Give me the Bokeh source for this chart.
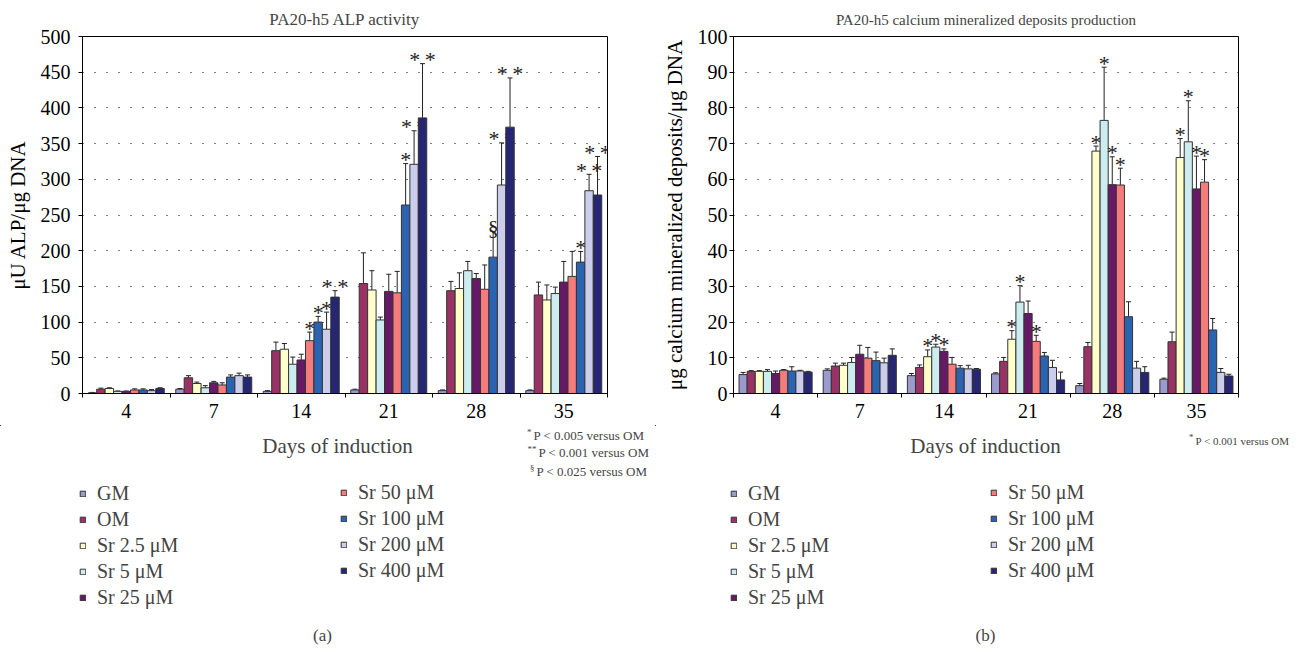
import numpy as np
from bokeh.plotting import figure
from bokeh.models import (ColumnDataSource, FixedTicker, Range1d, Legend, LegendItem,
                          Label, Whisker, TeeHead, CustomJSTickFormatter)
from bokeh.layouts import row, column
from bokeh.embed import file_html
from bokeh.resources import INLINE
from bokeh.core.properties import value

# ---------------- data ----------------
days = ["4", "7", "14", "21", "28", "35"]
series = ["GM", "OM", "Sr 2.5 μM", "Sr 5 μM", "Sr 25 μM", "Sr 50 μM",
          "Sr 100 μM", "Sr 200 μM", "Sr 400 μM"]
colors = ["#9a9acc", "#993366", "#ffffcc", "#ccecf0", "#661a66", "#f47c7c",
          "#2a64b0", "#cccceb", "#262672"]

# (a) ALP activity, muU ALP / ug DNA  (mean per day, one list per series)
alp_mean = [
    [1, 6, 3, 5, 4, 4],
    [6, 22, 60, 154, 144, 138],
    [7, 14, 62, 145, 147, 131],
    [3, 8, 41, 103, 172, 140],
    [3, 15, 47, 143, 161, 156],
    [5, 12, 74, 141, 146, 164],
    [5, 23, 100, 264, 191, 184],
    [4, 25, 90, 321, 292, 284],
    [7, 23, 135, 386, 373, 278],
]
alp_sd = [
    [0.5, 1, 1, 1, 1, 1],
    [1.5, 3, 12, 43, 13, 18],
    [1, 2, 8, 27, 22, 21],
    [0.5, 3, 10, 4, 13, 9],
    [0.5, 2, 8, 24, 7, 29],
    [1.5, 3, 12, 30, 34, 35],
    [1.5, 3, 8, 58, 36, 15],
    [1.5, 3.5, 24, 47, 59, 23],
    [1, 3, 9, 76, 69, 54],
]
S2 = "*\u2009*"
alp_sig = [
    ["", "", "", "", "", ""],
    ["", "", "", "", "", ""],
    ["", "", "", "", "", ""],
    ["", "", "", "", "", ""],
    ["", "", "", "", "", ""],
    ["", "", "*", "", "", ""],
    ["", "", "*", "*", "§", "*"],
    ["", "", "*", S2, S2, S2],
    ["", "", S2, S2, S2, S2],
]

# (b) calcium mineralized deposits, ug / ug DNA
ca_mean = [
    [5.3, 6.5, 5.0, 5.5, 2.2, 4.0],
    [6.2, 7.7, 7.3, 9.0, 13.1, 14.5],
    [6.2, 7.9, 10.3, 15.2, 67.9, 66.1],
    [6.2, 8.7, 13.0, 25.6, 76.5, 70.5],
    [5.6, 11.0, 11.8, 22.4, 58.5, 57.3],
    [6.5, 9.9, 8.2, 14.6, 58.4, 59.2],
    [6.3, 9.2, 7.1, 10.5, 21.5, 17.8],
    [6.3, 8.6, 6.9, 7.3, 7.1, 5.9],
    [6.0, 10.7, 6.8, 3.8, 5.9, 4.9],
]
ca_sd = [
    [0.6, 0.4, 0.6, 0.3, 0.6, 0.3],
    [0.2, 0.8, 0.7, 1.1, 1.2, 2.7],
    [0.2, 0.6, 1.9, 2.4, 1.4, 5.3],
    [0.5, 1.4, 0.8, 4.6, 14.9, 11.5],
    [0.7, 2.5, 0.7, 3.5, 7.8, 9.2],
    [0.2, 3.0, 1.9, 1.7, 4.7, 6.3],
    [1.2, 2.4, 0.7, 1.0, 4.2, 3.2],
    [0.2, 1.3, 1.0, 2.0, 1.9, 1.1],
    [0.2, 1.8, 0.2, 2.2, 1.6, 0.5],
]
ca_sig = [
    ["", "", "", "", "", ""],
    ["", "", "", "", "", ""],
    ["", "", "*", "*", "*", "*"],
    ["", "", "*", "*", "*", "*"],
    ["", "", "*", "", "*", "*"],
    ["", "", "", "*", "*", "*"],
    ["", "", "", "", "", ""],
    ["", "", "", "", "", ""],
    ["", "", "", "", "", ""],
]

FONT = "Liberation Serif"
FRAME_H = 357
TOP_H = 425          # height of the chart figure (frame + axes)
BOT_H = 220          # height of the legend / notes figure
BW = 0.0965


def make_chart(title, title_size, title_standoff, ylabel, ymax, ystep, means, sds, sigs,
               frame_w, bl, br, ystandoff):
    p = figure(frame_width=frame_w, frame_height=FRAME_H,
               x_range=Range1d(0, len(days)), y_range=Range1d(0, ymax),
               output_backend="svg", toolbar_location=None,
               min_border_left=bl, min_border_right=br,
               min_border_top=36, min_border_bottom=TOP_H - 36 - FRAME_H)
    p.frame_align = False
    p.title.text = title
    p.title.align = "center"
    p.title.text_font = FONT
    p.title.text_font_size = title_size
    p.title.text_font_style = "normal"
    p.title.text_line_height = 1.0
    p.title.standoff = title_standoff

    for j, name in enumerate(series):
        xs = [i + 0.5 + (j - 4) * BW for i in range(len(days))]
        tops = [m + s for m, s in zip(means[j], sds[j])]
        src = ColumnDataSource(dict(x=xs, y=means[j], top=tops, sig=sigs[j]))
        p.vbar(x="x", top="y", width=BW, source=src, fill_color=colors[j],
               line_color="#333333", line_width=1)
        p.add_layout(Whisker(base="x", lower="y", upper="top", source=src,
                             dimension="height", line_color="#222222", line_width=1,
                             upper_head=TeeHead(size=5, line_color="#222222", line_width=1),
                             lower_head=None))
        p.text(x="x", y="top", text="sig", source=src, text_font=value(FONT),
               text_font_size="22px", text_align="center", text_baseline="alphabetic",
               y_offset=-4, text_color="#222222")

    p.xaxis.ticker = FixedTicker(ticks=[i + 0.5 for i in range(len(days))],
                                 minor_ticks=list(range(len(days) + 1)))
    p.xaxis.formatter = CustomJSTickFormatter(args=dict(labels=days),
                                              code="return labels[Math.floor(tick)];")
    p.xaxis.major_tick_line_color = None
    p.xaxis.major_tick_out = 0
    p.xaxis.major_tick_in = 0
    p.xaxis.minor_tick_line_color = "black"
    p.xaxis.minor_tick_out = 4
    p.xaxis.minor_tick_in = 0
    p.xaxis.major_label_standoff = 6

    p.yaxis.ticker = FixedTicker(ticks=list(range(0, ymax + 1, ystep)))
    p.yaxis.minor_tick_line_color = None
    p.yaxis.major_tick_out = 4
    p.yaxis.major_tick_in = 0
    p.yaxis.major_label_standoff = ystandoff
    p.yaxis.axis_label = ylabel
    p.yaxis.axis_label_standoff = 8

    for ax in (p.xaxis, p.yaxis):
        ax.axis_line_color = "black"
        ax.major_label_text_font = FONT
        ax.major_label_text_font_size = "20px"
        ax.major_label_text_color = "black"
        ax.axis_label_text_font = FONT
        ax.axis_label_text_font_size = "21px"
        ax.axis_label_text_font_style = "normal"
        ax.axis_label_text_color = "black"

    p.xgrid.visible = False
    p.ygrid.grid_line_color = "black"
    p.ygrid.grid_line_dash = "1 11"
    p.ygrid.grid_line_width = 1
    p.outline_line_color = "black"
    p.outline_line_alpha = 1
    return p


def make_notes(width, xlabel_x, foot, foot_size, leg_x1, leg_x2, letter, letter_x):
    # lower strip: x-axis title, footnotes, legend and panel letter.
    # coordinates are pixel offsets from the strip's top-left corner
    q = figure(frame_width=width, frame_height=BOT_H,
               x_range=Range1d(0, width), y_range=Range1d(BOT_H, 0),
               output_backend="svg", toolbar_location=None,
               min_border=0, x_axis_location=None, y_axis_location=None)
    q.frame_align = False
    q.grid.visible = False
    q.outline_line_color = None

    q.add_layout(Label(x=xlabel_x, y=20, text="Days of induction", text_font=FONT,
                       text_font_size="21px", text_align="center",
                       text_baseline="middle"))
    for sup, txt, sx, ty in foot:
        q.add_layout(Label(x=sx, y=ty - 4, text=sup, text_font=FONT,
                           text_font_size="9px", text_align="right",
                           text_baseline="middle"))
        q.add_layout(Label(x=sx + 2, y=ty, text=txt, text_font=FONT,
                           text_font_size=foot_size, text_align="left",
                           text_baseline="middle"))

    # legend-only renderers (one point far outside the visible range)
    dummy = ColumnDataSource(dict(x=[-1000], top=[0]))
    items = []
    for j, name in enumerate(series):
        r = q.vbar(x="x", top="top", width=1, source=dummy, fill_color=colors[j],
                   line_color="#333333", line_width=1)
        items.append(LegendItem(label=name, renderers=[r]))
    for its, lx, ly in ((items[:5], leg_x1, 36), (items[5:], leg_x2, 63)):
        leg = Legend(items=its, location=(lx, ly), orientation="vertical",
                     label_text_font=FONT, label_text_font_size="20px",
                     glyph_width=7, glyph_height=7, label_standoff=11,
                     spacing=3, padding=0, margin=0, border_line_color=None,
                     background_fill_alpha=0, label_height=20)
        q.add_layout(leg, "center")

    q.add_layout(Label(x=letter_x, y=210, text=letter, text_font=FONT,
                       text_font_size="17px", text_align="center",
                       text_baseline="middle"))
    return q


pa = make_chart("PA20-h5 ALP activity", "17px", 15, "μU ALP/μg DNA", 500, 50,
                alp_mean, alp_sd, alp_sig, 525, 82, 48, 8)
pb = make_chart("PA20-h5 calcium mineralized deposits production", "15px", 17,
                "μg calcium mineralized deposits/μg DNA", 100, 10,
                ca_mean, ca_sd, ca_sig, 505, 78, 52, 2)

foot_a = [("*", "P < 0.005 versus OM", 531, 10),
          ("**", "P < 0.001 versus OM", 536, 27),
          ("§", "P < 0.025 versus OM", 534, 46)]
foot_b = [("*", "P < 0.001 versus OM", 538, 15)]

na = make_notes(655, 337, foot_a, "13px", 79, 340, "(a)", 322)
nb = make_notes(635, 330, foot_b, "11px", 75, 335, "(b)", 330)

layout = row(column(pa, na, spacing=0), column(pb, nb, spacing=0), spacing=0)
open("out.html", "w").write(file_html(layout, INLINE))
